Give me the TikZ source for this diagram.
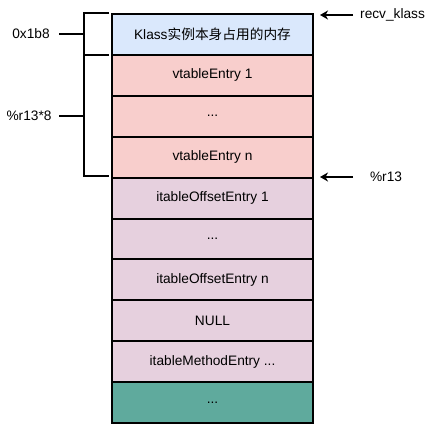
\documentclass[tikz,border=0pt]{standalone}
\usepackage{fontspec}
\setmainfont{Liberation Sans}
\newfontfamily\cjk{Noto Sans CJK SC}
\usetikzlibrary{arrows.meta}
\definecolor{cblue}{HTML}{DAE8FC}
\definecolor{cred}{HTML}{F8CECC}
\definecolor{cpurp}{HTML}{E6D0DE}
\definecolor{cteal}{HTML}{5FAA9D}
\tikzset{
  cell/.style={draw=black, line width=2pt, minimum width=201pt, minimum height=40.9pt, inner sep=0pt, anchor=north west, font=\fontsize{13.7}{15}\selectfont},
  brk/.style={line width=2pt},
  lbl/.style={font=\fontsize{13.7}{15}\selectfont, inner sep=0pt},
  ptr/.style={line width=2pt, -{Stealth[length=8pt,width=9pt,inset=2.5pt]}},
}
\begin{document}
\begin{tikzpicture}[x=1pt,y=-1pt]
\useasboundingbox (0,0) rectangle (443,431);
\node[cell, fill=cblue] (r0) at (111,13) {Klass{\cjk 实例本身占用的内存}};
\node[cell, fill=cred] (r1) at (111,53.9) {vtableEntry 1};
\node[cell, fill=cred] (r2) at (111,94.8) {...};
\node[cell, fill=cred] (r3) at (111,135.7) {vtableEntry n};
\node[cell, fill=cpurp] (r4) at (111,176.6) {itableOffsetEntry 1};
\node[cell, fill=cpurp] (r5) at (111,217.5) {...};
\node[cell, fill=cpurp] (r6) at (111,258.4) {itableOffsetEntry n};
\node[cell, fill=cpurp] (r7) at (111,299.3) {NULL};
\node[cell, fill=cpurp] (r8) at (111,340.2) {itableMethodEntry ...};
\node[cell, fill=cteal] (r9) at (111,381.1) {...};
% brackets
\coordinate (b1t) at (84,13);
\coordinate (b1b) at (84,55);
\coordinate (b2t) at (84,55);
\coordinate (b2b) at (84,176);
\draw[brk] (109,13) -- (b1t) -- (b1b) -- (109,55);
\draw[brk] (109,55) -- (b2t) -- (b2b) -- (109,176);
\node[lbl] (l1) at (31,34) {0x1b8};
\node[lbl] (l2) at (29,116) {\%r13*8};
\coordinate (l1e) at (59,34);
\coordinate (l2e) at (59,116);
\draw[brk] (l1e) -- (84,34);
\draw[brk] (l2e) -- (84,116);
% pointers
\node[lbl, anchor=west] (p1) at (360,15) {recv\_klass};
\node[lbl] (p2) at (386,177) {\%r13};
\coordinate (a1s) at (353,15);
\coordinate (a1e) at (320,15);
\coordinate (a2s) at (353,177);
\coordinate (a2e) at (320,177);
\draw[ptr] (a1s) -- (a1e);
\draw[ptr] (a2s) -- (a2e);
\end{tikzpicture}
\end{document}
